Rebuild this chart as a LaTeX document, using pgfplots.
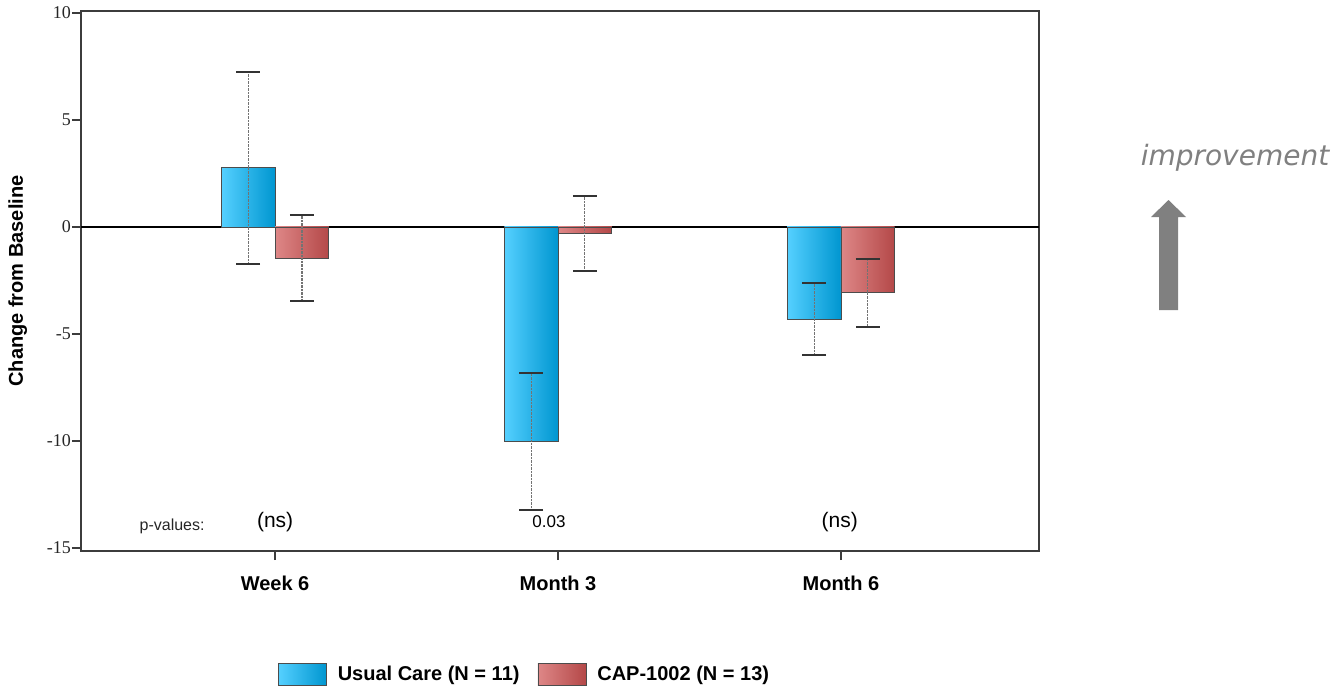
\documentclass[border=0pt]{standalone}
\usepackage{pgfplots}
\pgfplotsset{compat=1.18}
\usepackage{fontspec}
\setmainfont{Liberation Sans}
\newfontfamily\serifft{Liberation Serif}
\newfontfamily\dejavuit{DejaVu Sans Oblique}
\definecolor{axgray}{RGB}{60,60,60}
\definecolor{bluel}{RGB}{85,208,255}
\definecolor{blued}{RGB}{0,150,208}
\definecolor{redl}{RGB}{222,135,135}
\definecolor{redd}{RGB}{180,72,72}
\definecolor{arrowgray}{RGB}{128,128,128}
\pgfplotsset{
  errstyle/.style={/pgfplots/error bars/y dir=both, /pgfplots/error bars/y explicit,
    /pgfplots/error bars/error bar style={black!55, densely dotted, line width=1.1pt},
    /pgfplots/error bars/error mark options={rotate=90, black!80, line width=2.4pt, mark size=12pt, solid}},
  bluebar/.style={draw=black!70, line width=0.8pt, left color=bluel, right color=blued, bar shift=-0.095, errstyle},
  redbar/.style={draw=black!70, line width=0.8pt, left color=redl, right color=redd, bar shift=0.095, errstyle},
}
\begin{document}
\begin{tikzpicture}[x=1pt,y=1pt]
\useasboundingbox (0,0) rectangle (1338,-688);
\begin{axis}[
  at={(81pt,-551pt)}, anchor=south west,
  scale only axis, width=958pt, height=540pt,
  xmin=-0.686, xmax=2.70, ymin=-15.14, ymax=10.09,
  ybar=0pt, bar width=0.19,
  xtick={0,1,2}, xticklabels={Week 6, Month 3, Month 6},
  ytick={-15,-10,-5,0,5,10}, yticklabels={-15,-10,-5,0,5,10},
  axis line style={axgray, line width=2pt},
  tick style={axgray, line width=1.6pt},
  xtick pos=left, ytick pos=left, tick align=outside,
  major tick length=9pt,
  yticklabel style={font=\serifft\fontsize{18}{18}\selectfont, text=black!85, inner sep=1pt},
  xticklabel style={font=\bfseries\fontsize{20}{20}\selectfont, yshift=-12pt},
  ylabel={Change from Baseline},
  ylabel style={font=\bfseries\fontsize{20}{20}\selectfont, at={(axis description cs:-0.066,0.5)}, anchor=center},
  legend columns=2,
  legend style={at={(axis description cs:0.463,-0.228)}, anchor=center, draw=none, fill=none,
    font=\bfseries\fontsize{20}{20}\selectfont,
    /tikz/every odd column/.append style={column sep=9pt},
    /tikz/every even column/.append style={column sep=16pt}},
  legend image code/.code={\draw[#1] (0pt,-11pt) rectangle (48pt,11pt);},
  clip=false,
]
\draw[black, line width=1.2pt] (axis cs:-0.686,0) -- (axis cs:2.70,0);
\addplot[bluebar] coordinates {(0,2.76) +- (0,4.48)};
\addlegendentry{Usual Care (N = 11)}
\addplot[redbar] coordinates {(0,-1.45) +- (0,2.00)};
\addlegendentry{CAP-1002 (N = 13)}
\addplot[bluebar, forget plot] coordinates {(1,-10.02) +- (0,3.20)};
\addplot[bluebar, forget plot] coordinates {(2,-4.30) +- (0,1.68)};
\addplot[redbar, forget plot] coordinates {(1,-0.30) +- (0,1.75)};
\addplot[redbar, forget plot] coordinates {(2,-3.08) +- (0,1.59)};
\node[font=\fontsize{16}{16}\selectfont, text=black!85] at (axis cs:-0.364,-14.0) {p-values:};
\node[font=\fontsize{21}{21}\selectfont] at (axis cs:0,-13.78) {(ns)};
\node[font=\fontsize{17}{17}\selectfont] at (axis cs:0.968,-13.78) {0.03};
\node[font=\fontsize{21}{21}\selectfont] at (axis cs:1.996,-13.78) {(ns)};
\end{axis}
\node[font=\dejavuit\fontsize{28}{28}\selectfont, text=arrowgray] at (1235,-158) {improvement};
\fill[arrowgray] (1159,-310) -- (1178,-310) -- (1178,-217) -- (1186,-217) -- (1168.5,-200) -- (1151,-217) -- (1159,-217) -- cycle;
\end{tikzpicture}
\end{document}
